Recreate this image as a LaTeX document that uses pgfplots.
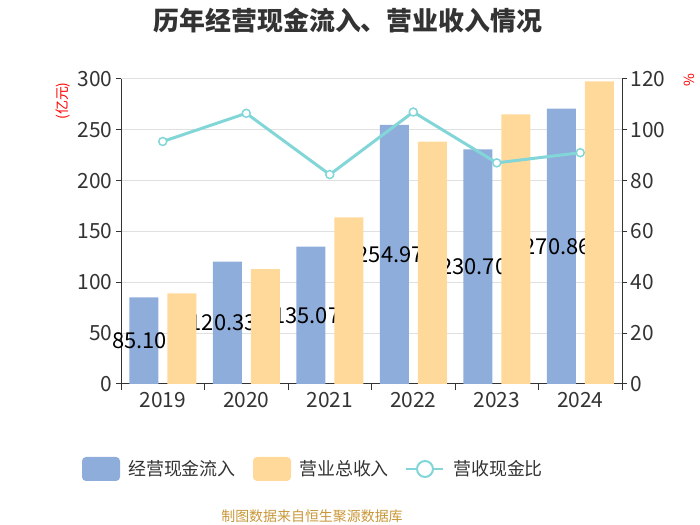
\documentclass[border=0pt]{standalone}
\usepackage{pgfplots}
\pgfplotsset{compat=1.18}
\usepackage{fontspec}
\setmainfont{Noto Sans CJK SC}
\definecolor{blueC}{RGB}{142,173,219}
\definecolor{orgC}{RGB}{255,217,154}
\definecolor{lineC}{RGB}{130,214,216}
\definecolor{txtC}{RGB}{51,51,51}
\definecolor{gridC}{RGB}{224,224,224}
\definecolor{footC}{RGB}{201,151,56}
\newcommand{\fs}[1]{\fontsize{#1}{#1}\selectfont}
\pgfplotsset{base/.style={at={(121bp,141bp)}, anchor=south west, scale only axis,
  width=501bp, height=305bp, xmin=-0.5, xmax=5.5,
  tick align=outside, major tick length=5bp, minor tick length=6bp,
  tick style={txtC, line width=1bp},
  axis line style={txtC, line width=1bp, -},
  tick label style={font=\fs{21}, text=txtC},
  /pgf/number format/assume math mode=true,
  clip=false}}
\begin{document}
\begin{tikzpicture}[x=1bp,y=1bp]
\useasboundingbox (0,0) rectangle (700,525);
\begin{axis}[base, ymin=0, ymax=300,
  ytick={0,50,...,300},
  xtick={0,...,5}, xticklabels={2019,2020,2021,2022,2023,2024},
  minor xtick={-0.5,0.5,...,5.5},
  major x tick style={draw=none},
  ymajorgrids, grid style={gridC, line width=1bp},
  axis x line*=bottom, axis y line*=left]
\addplot[ybar, bar width=29bp, bar shift=-19bp, fill=blueC, draw=none]
  coordinates {(0,85.10) (1,120.33) (2,135.07) (3,254.97) (4,230.70) (5,270.86)};
\addplot[draw=none, mark=none, forget plot, nodes near coords, point meta=explicit symbolic,
  every node near coord/.style={anchor=center, xshift=-23bp, font=\fs{22}, text=black}]
  coordinates {(0,42.55)[85.10] (1,60.165)[120.33] (2,67.535)[135.07] (3,127.485)[254.97] (4,115.35)[230.70] (5,135.43)[270.86]};
\end{axis}
\begin{axis}[base, ymin=0, ymax=300, axis lines=none]
\addplot[ybar, bar width=29bp, bar shift=19bp, fill=orgC, draw=none]
  coordinates {(0,89.2) (1,113.0) (2,164.0) (3,238.3) (4,265.3) (5,297.7)};
\end{axis}
\begin{axis}[base, ymin=0, ymax=120,
  ytick={0,20,...,120},
  axis x line=none, axis y line*=right]
\addplot[lineC, line width=3bp, mark=*, mark size=4bp,
  mark options={fill=white, draw=lineC, line width=1.5bp}]
  coordinates {(0,95.4) (1,106.5) (2,82.4) (3,107.0) (4,87.0) (5,91.0)};
\end{axis}
% title
\node[font=\fs{26}\bfseries, text=txtC] at (348,504) {历年经营现金流入、营业收入情况};
% axis units
\node[rotate=90, text=red, font=\fs{14}] at (63,424) {(亿元)};
\node[rotate=90, text=red, font=\fs{14}] at (689,445) {\%};
% legend
\fill[blueC, rounded corners=4bp] (82,44) rectangle (120,68);
\node[anchor=west, font=\fs{18}, text=txtC, inner sep=0] at (128,56) {经营现金流入};
\fill[orgC, rounded corners=4bp] (253,44) rectangle (291,68);
\node[anchor=west, font=\fs{18}, text=txtC, inner sep=0] at (299,56) {营业总收入};
\draw[lineC, line width=2bp] (406,56) -- (443,56);
\draw[lineC, line width=2bp, fill=white] (425,56) circle (8);
\node[anchor=west, font=\fs{18}, text=txtC, inner sep=0] at (453,56) {营收现金比};
% footer
\node[font=\fs{14}, text=footC] at (312,9) {制图数据来自恒生聚源数据库};
\end{tikzpicture}
\end{document}
